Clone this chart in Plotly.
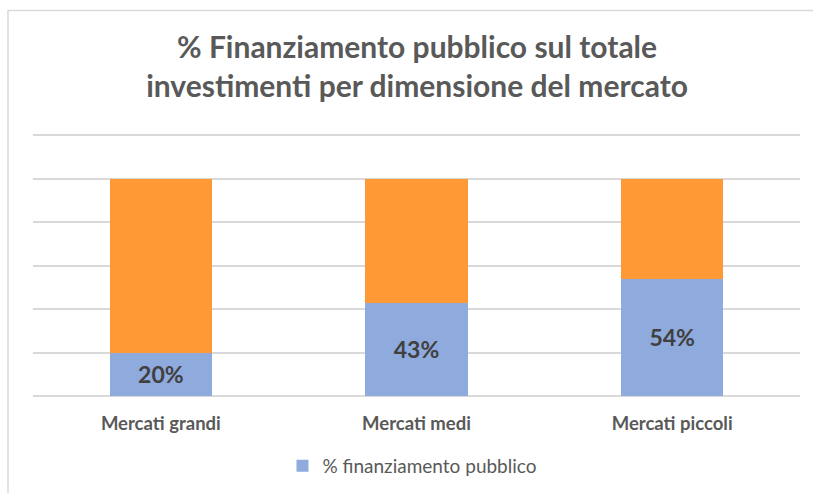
import plotly.graph_objects as go

categories = ["Mercati grandi", "Mercati medi", "Mercati piccoli"]
pubblico = [0.20, 0.43, 0.54]
altro = [round(1 - v, 2) for v in pubblico]
labels = [f"{round(v*100)}%" for v in pubblico]

FONT = "Lato, 'Open Sans', sans-serif"

fig = go.Figure()
fig.add_trace(go.Bar(
    x=categories, y=pubblico, name="% finanziamento pubblico",
    marker=dict(color="#8FAADC", line=dict(width=0)),
    text=labels, textposition="inside", insidetextanchor="middle",
    textfont=dict(family=FONT, size=23, color="#404040", weight="bold"),
    textangle=0, hoverinfo="skip",
))
fig.add_trace(go.Bar(
    x=categories, y=altro, name="altro", showlegend=False,
    marker=dict(color="#FF9935", line=dict(width=0)),
    hoverinfo="skip",
))

fig.update_layout(
    barmode="stack", bargap=0.6,
    width=813, height=493,
    margin=dict(l=33, r=13, t=134, b=97, autoexpand=False),
    paper_bgcolor="white", plot_bgcolor="white",
    title=dict(
        text="% Finanziamento pubblico sul totale<br>investimenti per dimensione del mercato",
        x=0.513, xanchor="center", y=1 - 58 / 493, yanchor="top",
        font=dict(family=FONT, size=30, color="#595959", weight="bold"),
    ),
    showlegend=True,
    legend=dict(
        orientation="h", xref="container", yref="container",
        x=(420 - 8) / 813, xanchor="center", y=1 - 466 / 493, yanchor="middle",
        font=dict(family=FONT, size=19, color="#595959"),
        itemwidth=30,
    ),
    font=dict(family=FONT),
)
fig.update_xaxes(
    showgrid=False, showline=False, zeroline=False, ticks="",
    ticklabelstandoff=14,
    tickfont=dict(family=FONT, size=18.5, color="#595959", weight="bold"),
)
fig.update_yaxes(
    range=[0, 1.205], dtick=0.2, showgrid=True, gridcolor="#D9D9D9", gridwidth=2,
    zeroline=True, zerolinecolor="#D9D9D9", zerolinewidth=2,
    showticklabels=False, ticks="",
)
fig.add_shape(
    type="rect", xref="paper", yref="paper",
    x0=(8 - 33) / 767, x1=1.1, y0=-0.5, y1=(396 - 10.5) / 262,
    line=dict(color="#D9D9D9", width=1.5), fillcolor="rgba(0,0,0,0)", layer="below",
)

fig.write_html("out.html", config={"displayModeBar": False},
               post_script="document.body.style.margin='0';")
